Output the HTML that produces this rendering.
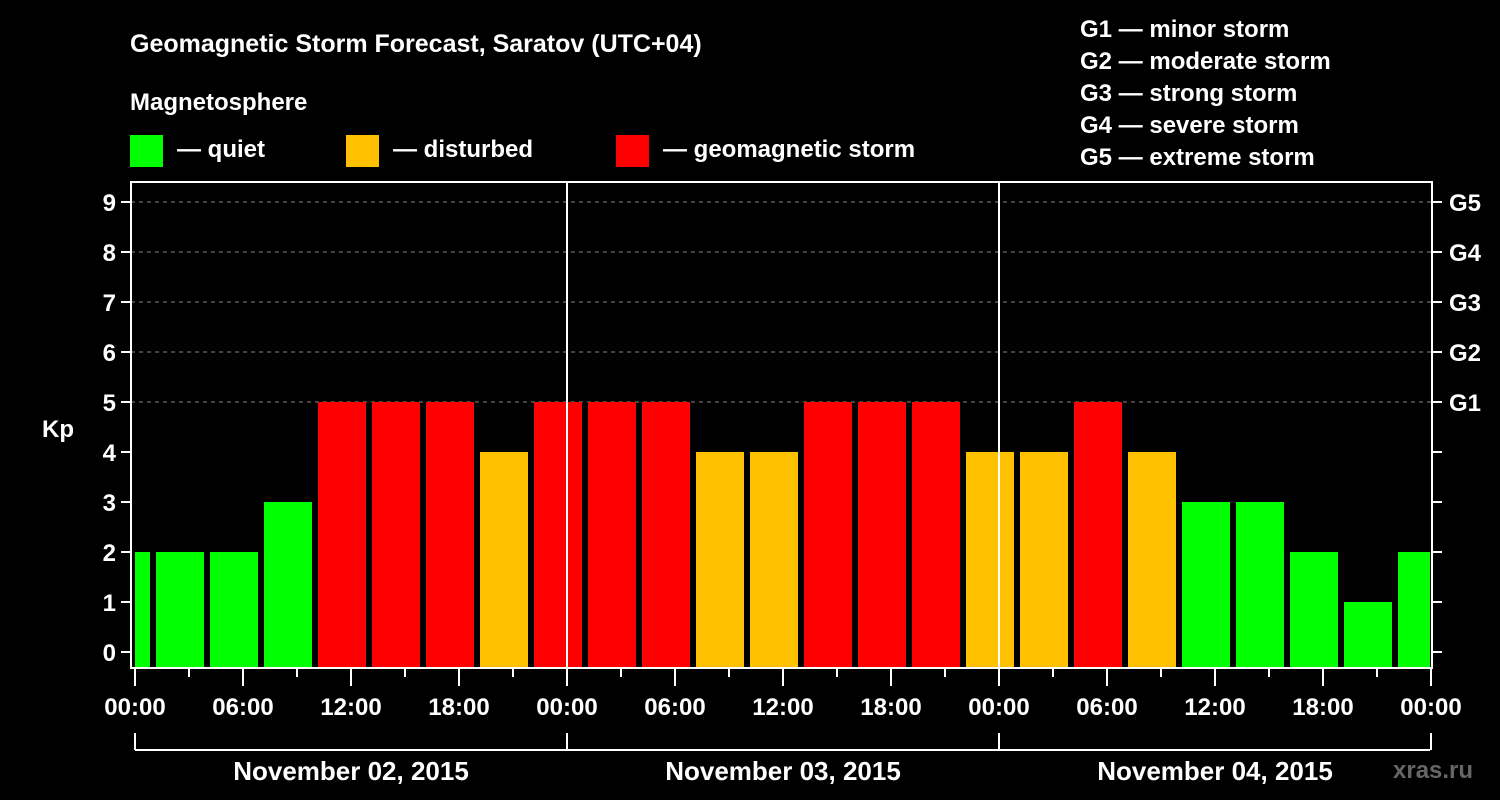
<!DOCTYPE html>
<html><head><meta charset="utf-8"><style>
html,body{margin:0;padding:0;background:#000;}
svg{display:block;font-family:"Liberation Sans",Arial,sans-serif;font-weight:bold;}
</style></head><body>
<svg id="chart" width="1500" height="800" viewBox="0 0 1500 800" xmlns="http://www.w3.org/2000/svg">
<rect width="1500" height="800" fill="#000"/>
<text x="130" y="52" fill="#fff" font-size="25">Geomagnetic Storm Forecast, Saratov (UTC+04)</text>
<text x="130" y="110" fill="#fff" font-size="24">Magnetosphere</text>
<g>
<rect x="130" y="135" width="33" height="32" fill="#00ff00"/>
<text x="177" y="157" fill="#fff" font-size="24">— quiet</text>
<rect x="346" y="135" width="33" height="32" fill="#ffc000"/>
<text x="393" y="157" fill="#fff" font-size="24">— disturbed</text>
<rect x="616" y="135" width="33" height="32" fill="#ff0000"/>
<text x="663" y="157" fill="#fff" font-size="24">— geomagnetic storm</text>
</g>
<g fill="#fff" font-size="24">
<text x="1080" y="37">G1 — minor storm</text>
<text x="1080" y="69">G2 — moderate storm</text>
<text x="1080" y="101">G3 — strong storm</text>
<text x="1080" y="133">G4 — severe storm</text>
<text x="1080" y="165">G5 — extreme storm</text>
</g>
<g id="plot"></g>
<text x="1393" y="778" fill="#666" font-size="24">xras.ru</text>
</svg>
<script>
const kpValues = [2,2,2,3,5,5,5,4,5,5,5,4,4,5,5,5,4,4,5,4,3,3,2,1,2];
const yTicks = [0,1,2,3,4,5,6,7,8,9];
const gLabels = ["G1","G2","G3","G4","G5"];
const gLevels = [5,6,7,8,9];
const xTickLabels = ["00:00","06:00","12:00","18:00","00:00","06:00","12:00","18:00","00:00","06:00","12:00","18:00","00:00"];
const dayLabels = ["November 02, 2015","November 03, 2015","November 04, 2015"];
const firstBarStartHour = -2;

const NS="http://www.w3.org/2000/svg";
const plot=document.getElementById('plot');
const X0=135, PX_PER_H=18, L=131, R=1432, T=182, B=668;
const xs=h=>X0+h*PX_PER_H;
const ys=v=>652-v*50;
function mk(tag,attrs,parent){const e=document.createElementNS(NS,tag);for(const k in attrs)e.setAttribute(k,attrs[k]);(parent||plot).appendChild(e);return e;}
function color(v){return v>=5?"#ff0000":(v>=4?"#ffc000":"#00ff00");}

// grid
gLevels.forEach(v=>{const l=mk('line',{x1:L,x2:R,y1:ys(v),y2:ys(v),stroke:'#888','stroke-dasharray':'4,4','stroke-width':1});

});
// bars
kpValues.forEach((v,i)=>{
 const h0=firstBarStartHour+i*3;
 let x1=xs(h0)+3, x2=xs(h0+3)-3;
 x1=Math.max(x1,X0); x2=Math.min(x2,R-2);
 const r=mk('rect',{x:x1,y:ys(v),width:x2-x1,height:B-ys(v),fill:color(v)});
 
 
});
// day separators
[1,2].forEach(d=>{const l=mk('line',{x1:xs(d*24),x2:xs(d*24),y1:T,y2:B,stroke:'#fff','stroke-width':2});

});
// frame
const f=mk('rect',{x:L,y:T,width:R-L,height:B-T,fill:'none',stroke:'#fff','stroke-width':2});


// y ticks
yTicks.forEach(v=>{
 const t=mk('line',{x1:121,x2:L,y1:ys(v),y2:ys(v),stroke:'#fff','stroke-width':2});
 
 
 const t2=mk('line',{x1:R,x2:1442,y1:ys(v),y2:ys(v),stroke:'#fff','stroke-width':2});
 
 
 const tx=mk('text',{x:116,y:ys(v)+9,fill:'#fff','font-size':24,'text-anchor':'end'});
 tx.textContent=v;
 
 
});
gLabels.forEach((g,i)=>{const tx=mk('text',{x:1449,y:ys(gLevels[i])+9,fill:'#fff','font-size':24});
 tx.textContent=g;
 
 });
const kp=mk('text',{x:42,y:437,fill:'#fff','font-size':24});
kp.textContent='Kp';


// x ticks
for(let h=0;h<=72;h+=3){
 const major=h%6===0;
 const t=mk('line',{x1:xs(h),x2:xs(h),y1:B,y2:major?686:677,stroke:'#fff','stroke-width':2});
 
 
}
xTickLabels.forEach((s,i)=>{const tx=mk('text',{x:xs(i*6),y:715,fill:'#fff','font-size':24,'text-anchor':'middle'});
 tx.textContent=s;
 
 });
// day bracket
const br=mk('line',{x1:xs(0),x2:xs(72)-1,y1:750,y2:750,stroke:'#fff','stroke-width':2});


for(let d=0;d<=3;d++){const l=mk('line',{x1:xs(d*24),x2:xs(d*24),y1:733,y2:750,stroke:'#fff','stroke-width':2});
 
 }
dayLabels.forEach((s,i)=>{const tx=mk('text',{x:xs(i*24+12),y:780,fill:'#fff','font-size':26,'text-anchor':'middle'});
 tx.textContent=s;
 
 });
</script>
</body></html>
